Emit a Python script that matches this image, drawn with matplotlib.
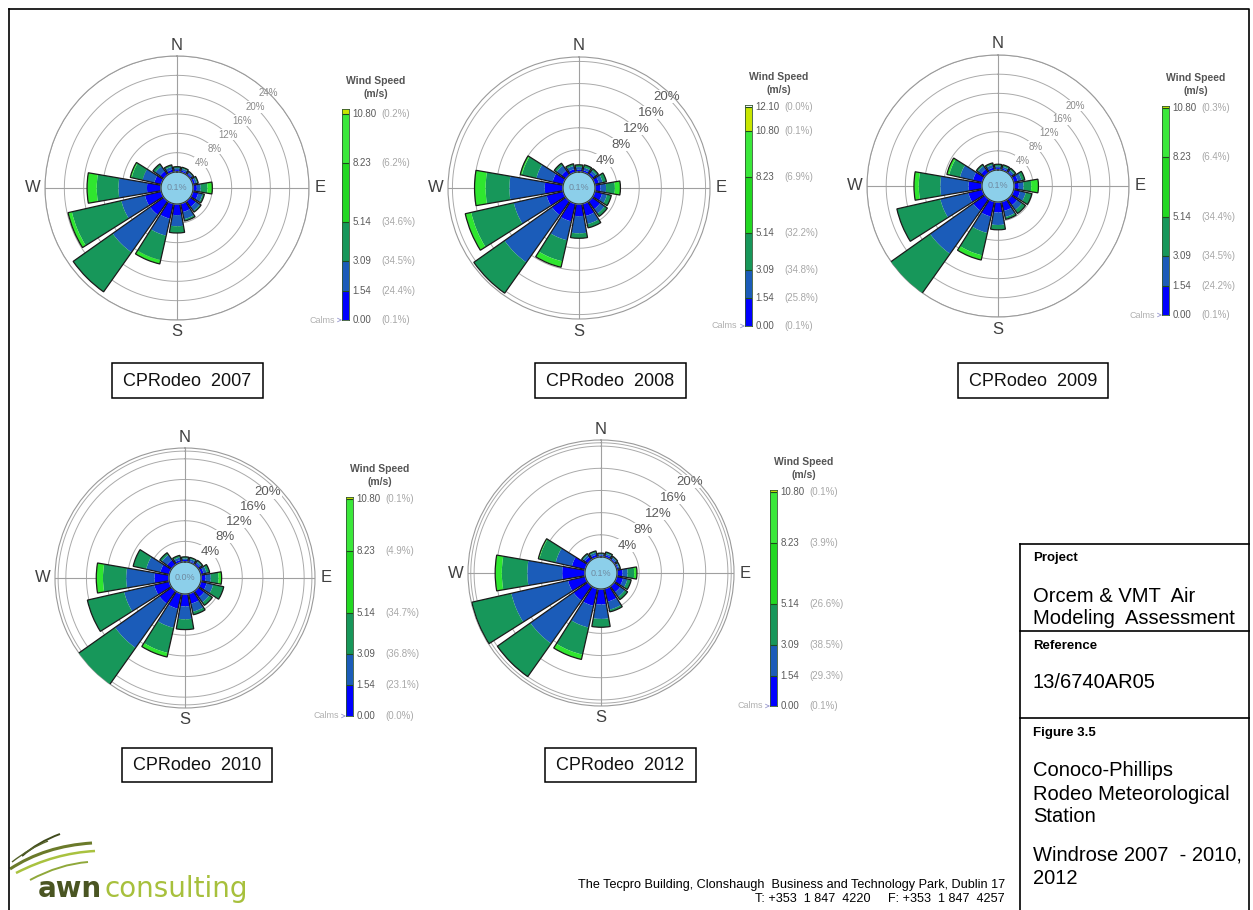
import numpy as np
import matplotlib.pyplot as plt
from matplotlib.patches import Rectangle, PathPatch
from matplotlib.path import Path

plt.rcParams['font.family'] = ['Liberation Sans', 'DejaVu Sans']

W, H = 1253, 910

# 16 compass sectors, clockwise from north
directions = ["N", "NNE", "NE", "ENE", "E", "ESE", "SE", "SSE",
              "S", "SSW", "SW", "WSW", "W", "WNW", "NW", "NNW"]
speed_colors = ["#0000ff", "#1b5cb9", "#17975a", "#2fe62f"]
scale_colors = ["#0000ff", "#1b5cb9", "#17975a", "#22d822", "#3ae83a", "#c8e600"]

# frequency (%) per speed class: <1.54, 1.54-3.09, 3.09-5.14, >5.14
y2007_c1 = [0.4, 0.4, 0.4, 0.5, 0.8, 1.2, 1.5, 1.8, 2.3, 3.2, 3.5, 3.5, 2.9, 1.5, 1.0, 0.6]
y2007_c2 = [0.4, 0.4, 0.3, 0.4, 0.8, 0.9, 1.0, 1.5, 2.3, 3.6, 9.5, 5.0, 5.9, 2.5, 1.2, 0.6]
y2007_c3 = [0.3, 0.3, 0.2, 0.3, 1.4, 0.4, 0.3, 0.4, 1.4, 5.2, 10.0, 10.5, 4.5, 2.3, 0.6, 0.4]
y2007_c4 = [0, 0, 0, 0, 1.0, 0, 0, 0, 0, 0.8, 0, 0.8, 2.0, 0.3, 0, 0]

y2008_c1 = [0.4, 0.4, 0.5, 0.8, 1.0, 1.4, 1.8, 2.3, 2.2, 3.3, 3.1, 3.1, 3.3, 2.0, 1.0, 0.6]
y2008_c2 = [0.5, 0.5, 0.5, 0.7, 1.0, 0.9, 1.0, 1.5, 3.1, 3.5, 10.5, 6.1, 6.4, 3.0, 1.1, 0.6]
y2008_c3 = [0.4, 0.5, 0.4, 0.7, 1.6, 0.8, 0.6, 0.7, 0.9, 3.9, 6.8, 7.9, 4.3, 2.7, 0.5, 0.4]
y2008_c4 = [0, 0, 0, 0, 1.0, 0, 0, 0, 0, 1.1, 0, 1.1, 2.0, 0.3, 0, 0]

y2009_c1 = [0.4, 0.4, 0.4, 0.9, 1.0, 1.4, 1.6, 2.0, 2.2, 3.2, 3.0, 3.0, 2.8, 2.0, 1.0, 0.6]
y2009_c2 = [0.4, 0.4, 0.4, 0.8, 1.0, 1.2, 1.2, 1.3, 2.6, 3.5, 11.0, 6.0, 5.9, 2.8, 0.8, 0.6]
y2009_c3 = [0.4, 0.4, 0.4, 0.7, 1.6, 1.3, 0.9, 0.5, 1.0, 4.8, 10.2, 9.3, 4.5, 2.3, 0.4, 0.4]
y2009_c4 = [0, 0, 0, 0, 1.5, 0, 0, 0, 0, 1.0, 0, 0, 1.0, 0.5, 0, 0]

y2010_c1 = [0.4, 0.3, 0.4, 0.6, 0.9, 1.2, 1.5, 2.0, 2.4, 3.0, 3.0, 3.0, 2.8, 1.8, 1.2, 0.5]
y2010_c2 = [0.3, 0.4, 0.4, 0.6, 1.0, 1.3, 1.2, 1.6, 2.5, 3.8, 10.5, 6.0, 5.5, 2.8, 1.2, 0.5]
y2010_c3 = [0.3, 0.3, 0.3, 0.6, 1.5, 2.1, 0.7, 0.6, 2.0, 5.0, 8.9, 7.3, 4.5, 2.6, 0.5, 0.4]
y2010_c4 = [0, 0, 0, 0, 0.6, 0, 0, 0, 0, 0.8, 0, 0, 1.3, 0, 0, 0]

y2012_c1 = [0.3, 0.4, 0.3, 0.3, 1.0, 1.2, 1.4, 2.4, 2.8, 3.2, 3.2, 3.2, 4.1, 2.5, 0.7, 0.5]
y2012_c2 = [0.2, 0.3, 0.3, 0.2, 0.9, 0.8, 1.0, 1.5, 2.6, 4.0, 9.5, 10.5, 6.3, 3.0, 0.4, 0.4]
y2012_c3 = [0.2, 0.3, 0.2, 0.2, 1.2, 0.7, 0.6, 0.4, 1.5, 5.0, 7.3, 7.3, 4.6, 3.0, 0.3, 0.3]
y2012_c4 = [0, 0, 0, 0, 0.5, 0, 0, 0, 0, 0.9, 0, 0, 1.2, 0.2, 0, 0]

calms = ["0.1%", "0.1%", "0.1%", "0.0%", "0.1%"]
titles = ["CPRodeo  2007", "CPRodeo  2008", "CPRodeo  2009", "CPRodeo  2010", "CPRodeo  2012"]

# wind speed scale (m/s) and class shares
scale_bounds = [0.00, 1.54, 3.09, 5.14, 8.23, 10.80]
scale_bounds_2008 = [0.00, 1.54, 3.09, 5.14, 8.23, 10.80, 12.10]
pct_2007 = ["0.1%", "24.4%", "34.5%", "34.6%", "6.2%", "0.2%"]
pct_2008 = ["0.1%", "25.8%", "34.8%", "32.2%", "6.9%", "0.1%", "0.0%"]
pct_2009 = ["0.1%", "24.2%", "34.5%", "34.4%", "6.4%", "0.3%"]
pct_2010 = ["0.0%", "23.1%", "36.8%", "34.7%", "4.9%", "0.1%"]
pct_2012 = ["0.1%", "29.3%", "38.5%", "26.6%", "3.9%", "0.1%"]

fig = plt.figure(figsize=(W / 100, H / 100), dpi=100)
bg = fig.add_axes([0, 0, 1, 1])
bg.set_xlim(0, W)
bg.set_ylim(H, 0)
bg.axis('off')


def draw_rose(cx, cy, R, rmax, rings, labelled, lab_fs, lab_col, classes, calm):
    ax = fig.add_axes([(cx - R) / W, 1 - (cy + R) / H, 2 * R / W, 2 * R / H],
                      projection='polar')
    ax.set_theta_zero_location('N')
    ax.set_theta_direction(-1)
    off = 16.0 * rmax / (R - 16.0)
    ax.set_ylim(-off, rmax)
    ax.set_xticks([])
    ax.set_yticks([])
    ax.grid(False)
    ax.patch.set_alpha(0)
    ax.spines['polar'].set_color('#9a9a9a')
    ax.spines['polar'].set_linewidth(0.8)
    t = np.linspace(0, 2 * np.pi, 361)
    for r in rings:
        ax.plot(t, np.full_like(t, r), color='#aaaaaa', lw=0.7, zorder=1)
    for a in (0, 90, 180, 270):
        ax.plot([np.deg2rad(a)] * 2, [-off, rmax], color='#a0a0a0', lw=0.8, zorder=1)
    for r in labelled:
        ax.text(np.deg2rad(44), r, f"{r}%", fontsize=lab_fs, color=lab_col,
                ha='center', va='center', zorder=2,
                bbox=dict(fc='white', ec='none', pad=0.4))
    theta = np.deg2rad(np.arange(len(directions)) * 22.5)
    width = np.deg2rad(19.5)
    bottom = np.zeros(len(directions))
    for vals, col in zip(classes, speed_colors):
        vals = np.asarray(vals, dtype=float)
        ax.bar(theta, vals, width=width, bottom=bottom, color=col,
               edgecolor='none', zorder=3)
        bottom += vals
    ax.bar(theta, bottom, width=width, bottom=0, fill=False,
           edgecolor='#1a1a1a', lw=0.9, zorder=4)
    ax.fill(t, np.zeros_like(t), color='#8ccfea', zorder=5)
    ax.plot(t, np.zeros_like(t), color='#333333', lw=0.8, zorder=6)
    ax.text(0, -off, calm, fontsize=6.5, color='#6f8aa0', ha='center',
            va='center', zorder=7)
    for lab, a, dx, dy in (("N", 0, 0, 11), ("E", 90, 11, 0),
                           ("S", 180, 0, -12), ("W", 270, -12, 0)):
        ax.annotate(lab, xy=(np.deg2rad(a), rmax), xytext=(dx, dy),
                    textcoords='offset pixels', ha='center', va='center',
                    fontsize=12, color='#404040', annotation_clip=False)


def draw_scale(x, y_zero, ppu, top_val, bounds, pcts):
    h = top_val * ppu
    ax = fig.add_axes([x / W, 1 - y_zero / H, 7 / W, h / H])
    ax.set_xlim(0, 1)
    ax.set_ylim(0, top_val)
    edges = list(bounds) + [top_val]
    for lo, hi, col in zip(edges[:-1], edges[1:], scale_colors):
        ax.bar(0.5, hi - lo, bottom=lo, width=1, color=col, edgecolor='none')
    ax.hlines(bounds[1:], 0, 1, color='#1d4d1d', lw=0.8)
    for s in ax.spines.values():
        s.set_color('#335533')
        s.set_linewidth(0.6)
    ax.set_xticks([])
    ax.set_yticks([])
    tr = ax.get_yaxis_transform()
    for b, p in zip(bounds, pcts):
        ax.text(1.5, b, f"{b:.2f}", transform=tr, fontsize=7, color='#5a5a5a',
                ha='left', va='center')
        ax.text(1.5 + 29 / 7, b, f"({p})", transform=tr, fontsize=7,
                color='#a8a8a8', ha='left', va='center')
    ax.annotate("Calms", xy=(0, 0), xytext=(-33, 0), textcoords='offset pixels',
                fontsize=6.5, color='#b0b0b0', ha='left', va='center',
                arrowprops=dict(arrowstyle='->', color='#9a9ad0', lw=0.6),
                annotation_clip=False)
    y_top = y_zero - h
    bg.text(x + 34, y_top - 28, "Wind Speed", fontsize=7.5, weight='bold',
            color='#555555', ha='center', va='center')
    bg.text(x + 34, y_top - 15, "(m/s)", fontsize=7.5, weight='bold',
            color='#555555', ha='center', va='center')


def title_box(x0, y0, x1, y1, text):
    bg.add_patch(Rectangle((x0, y0), x1 - x0, y1 - y0, fill=False,
                           ec='black', lw=1.1))
    bg.text((x0 + x1) / 2, (y0 + y1) / 2 + 1, text, fontsize=13,
            ha='center', va='center', color='#111111')


# roses
draw_rose(177, 188, 132, 24, [4, 8, 12, 16, 20, 24], [4, 8, 12, 16, 20, 24],
          7, '#8a8a8a', [y2007_c1, y2007_c2, y2007_c3, y2007_c4], calms[0])
draw_rose(579, 188, 131, 20.8, [4, 8, 12, 16, 20], [4, 8, 12, 16, 20],
          9.5, '#5a5a5a', [y2008_c1, y2008_c2, y2008_c3, y2008_c4], calms[1])
draw_rose(998, 186, 131, 24, [4, 8, 12, 16, 20, 24], [4, 8, 12, 16, 20],
          7, '#8a8a8a', [y2009_c1, y2009_c2, y2009_c3, y2009_c4], calms[2])
draw_rose(185, 578, 130, 22.1, [4, 8, 12, 16, 20, 21.5], [4, 8, 12, 16, 20],
          9.5, '#5a5a5a', [y2010_c1, y2010_c2, y2010_c3, y2010_c4], calms[3])
draw_rose(601, 573, 133, 21.1, [4, 8, 12, 16, 20, 20.6], [4, 8, 12, 16, 20],
          9.5, '#5a5a5a', [y2012_c1, y2012_c2, y2012_c3, y2012_c4], calms[4])

# speed scales
draw_scale(342, 320, 19.05, 11.1, scale_bounds, pct_2007)
draw_scale(745, 326, 18.1, 12.2, scale_bounds_2008, pct_2008)
draw_scale(1162, 315, 19.15, 10.9, scale_bounds, pct_2009)
draw_scale(346, 716, 20.1, 10.9, scale_bounds, pct_2010)
draw_scale(770, 706, 19.8, 10.9, scale_bounds, pct_2012)

# year captions
title_box(112, 363, 263, 398, titles[0])
title_box(535, 363, 686, 398, titles[1])
title_box(958, 363, 1108, 398, titles[2])
title_box(122, 748, 272, 782, titles[3])
title_box(545, 748, 696, 782, titles[4])

# page border
bg.plot([9, 1249, 1249], [9, 9, 910], color='black', lw=1.2)
bg.plot([9, 9], [9, 910], color='black', lw=1.2)

# info panel
bg.plot([1020, 1020], [544, 910], color='black', lw=1.2)
for yy in (544, 631, 718):
    bg.plot([1020, 1249], [yy, yy], color='black', lw=1.2)
bg.text(1033, 558, "Project", fontsize=9.5, weight='bold', va='center')
bg.text(1033, 596, "Orcem & VMT  Air", fontsize=14.5, va='center')
bg.text(1033, 619, "Modeling  Assessment", fontsize=14.5, va='center')
bg.text(1033, 646, "Reference", fontsize=9.5, weight='bold', va='center')
bg.text(1033, 683, "13/6740AR05", fontsize=14.5, va='center')
bg.text(1033, 733, "Figure 3.5", fontsize=9.5, weight='bold', va='center')
bg.text(1033, 770, "Conoco-Phillips", fontsize=14.5, va='center')
bg.text(1033, 794, "Rodeo Meteorological", fontsize=14.5, va='center')
bg.text(1033, 817, "Station", fontsize=14.5, va='center')
bg.text(1033, 855, "Windrose 2007  - 2010,", fontsize=14.5, va='center')
bg.text(1033, 878, "2012", fontsize=14.5, va='center')

# footer address
bg.text(1005, 885, "The Tecpro Building, Clonshaugh  Business and Technology Park, Dublin 17",
        fontsize=9.1, ha='right', va='center')
bg.text(1005, 899, "T: +353  1 847  4220     F: +353  1 847  4257",
        fontsize=9.1, ha='right', va='center')

# logo
swooshes = [((10, 869), (45, 846), (92, 843), '#6b7a2a', 2.2),
            ((16, 873), (55, 853), (95, 851), '#a9c23f', 1.8),
            ((22, 856), (38, 842), (60, 834), '#3f4a1c', 1.4),
            ((30, 880), (60, 864), (88, 862), '#8fa83a', 1.4),
            ((12, 862), (30, 848), (48, 841), '#55622a', 1.0)]
for p0, p1, p2, col, lw in swooshes:
    path = Path([p0, p1, p2], [Path.MOVETO, Path.CURVE3, Path.CURVE3])
    bg.add_patch(PathPatch(path, fc='none', ec=col, lw=lw))
awn = bg.text(38, 897, "awn", fontsize=20, weight='bold', color='#4a5522',
              va='baseline', family='DejaVu Sans')
bg.annotate("consulting", xy=(1, 0), xycoords=awn, xytext=(2, 0),
            textcoords='offset pixels', fontsize=20, color='#a7c03c',
            va='bottom', family='DejaVu Sans')

fig.savefig("out.png", dpi=100)
